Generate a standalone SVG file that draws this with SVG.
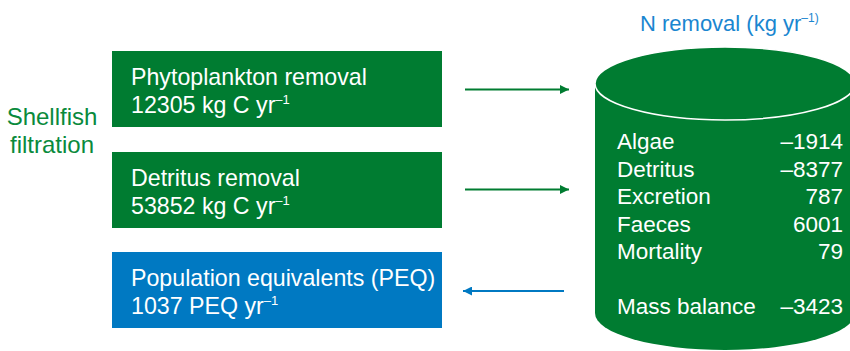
<svg xmlns="http://www.w3.org/2000/svg" width="850" height="351" viewBox="0 0 850 351">
<defs>
<style>
text{font-family:"Liberation Sans",Arial,sans-serif;}
.bx{font-size:23.2px;fill:#ffffff;}
.sup{font-size:13px;}
.cy{font-size:22.5px;fill:#ffffff;}
.num{text-anchor:end;}
.green{fill:#007c31;}
.blue{fill:#0079c2;}
</style>
<marker id="ag" viewBox="0 0 10 10" refX="10" refY="5" markerWidth="9" markerHeight="9" orient="auto" markerUnits="userSpaceOnUse">
<path d="M0,0 L10,5 L0,10 z" fill="#007c31"/>
</marker>
<marker id="ab" viewBox="0 0 10 10" refX="10" refY="5" markerWidth="9" markerHeight="9" orient="auto" markerUnits="userSpaceOnUse">
<path d="M0,0 L10,5 L0,10 z" fill="#0079c2"/>
</marker>
</defs>
<rect width="850" height="351" fill="#ffffff"/>

<g id="label-shellfish">
<text x="52" y="125" text-anchor="middle" style="font-size:24px;fill:#0a8a3c">Shellfish</text>
<text x="52" y="153" text-anchor="middle" style="font-size:24px;fill:#0a8a3c">filtration</text>
</g>

<g id="phyto">
<rect class="green" x="112" y="51" width="330" height="76"/>
<text class="bx" x="131" y="85">Phytoplankton removal</text>
<text class="bx" x="131" y="113">12305 kg C yr<tspan class="sup" dy="-9">–1</tspan></text>
</g>

<g id="detritus">
<rect class="green" x="112" y="152" width="330" height="76"/>
<text class="bx" x="131" y="186">Detritus removal</text>
<text class="bx" x="131" y="214">53852 kg C yr<tspan class="sup" dy="-9">–1</tspan></text>
</g>

<g id="peq">
<rect class="blue" x="112" y="252" width="330" height="76"/>
<text class="bx" x="131" y="286">Population equivalents (PEQ)</text>
<text class="bx" x="131" y="314">1037 PEQ yr<tspan class="sup" dy="-9">–1</tspan></text>
</g>

<g id="cylinder">
<path class="green" d="M595,83.5 L595,313 A130,37 0 0 0 855,313 L855,83.5 z"/>
<ellipse class="green" cx="725" cy="83.5" rx="130" ry="36.5" stroke="#ffffff" stroke-width="1.5"/>
<text x="640" y="31" style="font-size:22px;fill:#1a86d0">N removal (kg yr<tspan style="font-size:12px" dy="-9">–1)</tspan></text>
<text class="cy" x="617" y="149">Algae</text>
<text class="cy num" x="843" y="149">–1914</text>
<text class="cy" x="617" y="176.5">Detritus</text>
<text class="cy num" x="843" y="176.5">–8377</text>
<text class="cy" x="617" y="204">Excretion</text>
<text class="cy num" x="843" y="204">787</text>
<text class="cy" x="617" y="231.5">Faeces</text>
<text class="cy num" x="843" y="231.5">6001</text>
<text class="cy" x="617" y="259">Mortality</text>
<text class="cy num" x="843" y="259">79</text>
<text class="cy" x="617" y="314">Mass balance</text>
<text class="cy num" x="843" y="314">–3423</text>
</g>

<g id="connectors">
<line x1="465" y1="89.5" x2="569" y2="89.5" stroke="#007c31" stroke-width="2" marker-end="url(#ag)"/>
<line x1="465" y1="189.5" x2="569" y2="189.5" stroke="#007c31" stroke-width="2" marker-end="url(#ag)"/>
<line x1="564" y1="291" x2="463" y2="291" stroke="#0079c2" stroke-width="2" marker-end="url(#ab)"/>
</g>
</svg>
